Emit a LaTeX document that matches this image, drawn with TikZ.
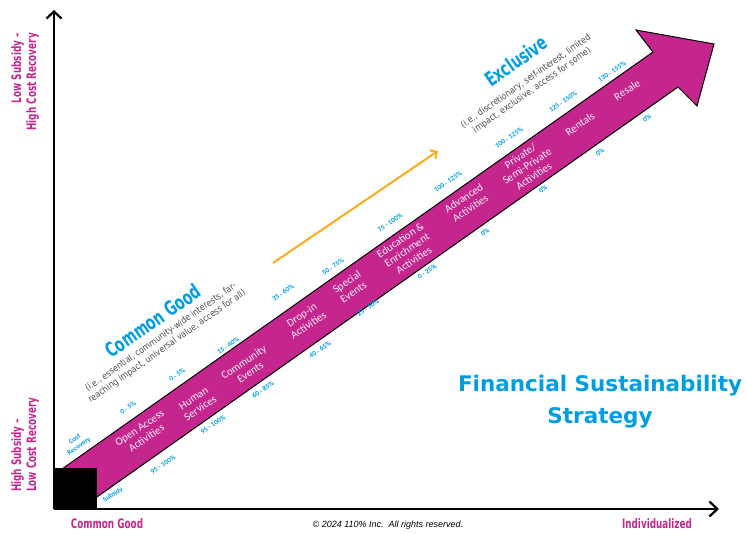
\documentclass[tikz,border=0pt]{standalone}
\usepackage{fontspec}
\setmainfont{Carlito}
\newfontfamily\condfont[FakeStretch=0.68]{DejaVu Sans}
\newfontfamily\descfont[FakeStretch=0.88]{DejaVu Sans}
\newfontfamily\headfont{DejaVu Sans}
\newfontfamily\notefont{Liberation Sans}
\usetikzlibrary{arrows.meta}
\definecolor{mag}{RGB}{196,38,142}
\definecolor{sky}{RGB}{0,158,224}
\definecolor{orng}{RGB}{250,172,30}
\definecolor{txtgrey}{RGB}{75,75,75}
\tikzstyle{axis}=[line width=2.2pt, draw=black]
\tikzstyle{band}=[fill=mag, draw=black, line width=1pt, line join=miter]
\tikzstyle{blab}=[text=mag!8!white, align=center, rotate=34, inner sep=0,
                  font=\fontsize{11}{12}\selectfont]
\tikzstyle{pct}=[text=sky, rotate=34, inner sep=0, align=center,
                 font=\bfseries\fontsize{7}{8}\selectfont]
\tikzstyle{ttl}=[text=sky, rotate=35, inner sep=0,
                 font=\condfont\bfseries\fontsize{20}{20}\selectfont]
\tikzstyle{descr}=[text=txtgrey, align=center, rotate=35, inner sep=0,
                   font=\descfont\fontsize{9}{11}\selectfont]
\tikzstyle{axlab}=[text=mag, inner sep=0,
                   font=\condfont\bfseries\fontsize{13}{15}\selectfont]

\begin{document}
\begin{tikzpicture}[x=1pt,y=-1pt]
  \useasboundingbox (0,0) rectangle (747,533);
  % axes
  \coordinate (O) at (54,509);
  \coordinate (ytop) at (54,10);
  \coordinate (xend) at (719,509);
  \draw[axis, -{Straight Barb[length=7pt,width=15pt]}] (O) -- (ytop);
  \draw[axis, -{Straight Barb[length=8pt,width=15pt]}] (O) -- (xend);
  % big arrow
  \draw[band] (62,469) -- (653,52) -- (636,30) -- (714,44)
    -- (697,106) -- (678,87) -- (86.7,504.2) -- cycle;
  \fill[black] (53,468) rectangle (97,509);
  % orange direction arrow
  \coordinate (go1) at (273,263);
  \coordinate (go2) at (438,151);
  \draw[orng, line width=2pt, -{Straight Barb[length=5pt,width=10pt]}] (go1) -- (go2);

  % axis labels
  \node[axlab, rotate=90, align=right, anchor=east] (lowsub) at (25,33)
    {Low Subsidy –\\High Cost Recovery};
  \node[axlab, rotate=90, align=left, anchor=west] (highsub) at (25,492)
    {High Subsidy –\\Low Cost Recovery};
  \node[axlab] (cgood) at (107,524) {Common Good};
  \node[axlab] (indiv) at (657,524) {Individualized};
  \node[font=\notefont\itshape\fontsize{9}{10}\selectfont] (copy) at (388,525)
    {© 2024 110\% Inc.\ \ All rights reserved.};

  % titles
  \node[ttl] (common) at (153,321) {Common Good};
  \node[descr] (commondesc) at (164,342)
    {(i.e., essential, community-wide interests, far-\\reaching impact, universal value, access for all)};
  \node[ttl] (excl) at (516,61) {Exclusive};
  \node[descr] (excldesc) at (529,86)
    {(i.e., discretionary, self-interest, limited\\impact, exclusive, access for some)};
  \node[text=sky, align=center, font=\headfont\bfseries\fontsize{21.5}{32}\selectfont]
    (fss) at (600,402) {Financial Sustainability\\Strategy};

  % activities in the band
  \node[blab] (oa) at (143,433) {Open Access\\Activities};
  \node[blab] (hs) at (197,403) {Human\\Services};
  \node[blab] (ce) at (247,367) {Community\\Events};
  \node[blab] (di) at (305,320) {Drop-in\\Activities};
  \node[blab] (se) at (350,287) {Special\\Events};
  \node[blab] (ee) at (407,250) {Education \&\\Enrichment\\Activities};
  \node[blab] (aa) at (467,203) {Advanced\\Activities};
  \node[blab] (psp) at (527,166) {Private/\\Semi-Private\\Activities};
  \node[blab] (rent) at (580,124) {Rentals};
  \node[blab] (resale) at (627,90) {Resale};

  % cost recovery
  \node[pct] (cr) at (77,443) {Cost\\Recovery};
  \node[pct] (c1) at (128,408) {0 - 5\%};
  \node[pct] (c2) at (177,375) {0 - 5\%};
  \node[pct] (c3) at (228,346) {15 - 40\%};
  \node[pct] (c4) at (283,293) {35 - 60\%};
  \node[pct] (c5) at (333,267) {50 - 75\%};
  \node[pct] (c6) at (390,223) {75 - 100\%};
  \node[pct] (c7) at (448,182) {100 - 125\%};
  \node[pct] (c8) at (509,138) {100 - 125\%};
  \node[pct] (c9) at (563,102) {125 - 150\%};
  \node[pct] (c10) at (612,72) {130 - 155\%};

  % subsidy
  \node[pct] (sub) at (113,495) {Subsidy};
  \node[pct] (s1) at (163,465) {95 - 100\%};
  \node[pct] (s2) at (213,425) {95 - 100\%};
  \node[pct] (s3) at (263,390) {60 - 85\%};
  \node[pct] (s4) at (320,350) {40 - 65\%};
  \node[pct] (s5) at (368,308) {25 - 50\%};
  \node[pct] (s6) at (427,272) {0 - 25\%};
  \node[pct] (s7) at (485,232) {0\%};
  \node[pct] (s8) at (543,189) {0\%};
  \node[pct] (s9) at (600,152) {0\%};
  \node[pct] (s10) at (647,118) {0\%};
\end{tikzpicture}
\end{document}
